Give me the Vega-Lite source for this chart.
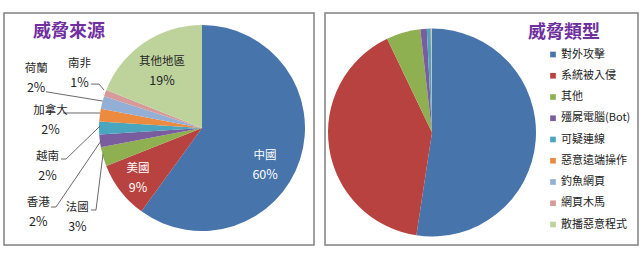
{
  "$schema": "https://vega.github.io/schema/vega-lite/v6.json",
  "padding": {"left": 3, "top": 12, "right": 0, "bottom": 0},
  "background": "white",
  "spacing": 9,
  "config": {
    "font": "Noto Sans CJK TC",
    "view": {"stroke": "#808080", "strokeWidth": 1.5}
  },
  "resolve": {"scale": {"color": "independent"}, "legend": {"color": "independent"}},
  "datasets": {
    "sources": [
      {"idx": 1, "region": "中國", "pct": 0.60},
      {"idx": 2, "region": "美國", "pct": 0.09},
      {"idx": 3, "region": "法國", "pct": 0.03},
      {"idx": 4, "region": "香港", "pct": 0.02},
      {"idx": 5, "region": "越南", "pct": 0.02},
      {"idx": 6, "region": "加拿大", "pct": 0.02},
      {"idx": 7, "region": "荷蘭", "pct": 0.02},
      {"idx": 8, "region": "南非", "pct": 0.01},
      {"idx": 9, "region": "其他地區", "pct": 0.19}
    ],
    "labels": [
      {"region": "中國", "pct": 0.60, "lx": 0.612, "ly": -0.364},
      {"region": "美國", "pct": 0.09, "lx": -0.621, "ly": -0.495},
      {"region": "其他地區", "pct": 0.19, "lx": -0.388, "ly": 0.553},
      {"region": "南非", "pct": 0.01, "lx": -1.19, "ly": 0.53},
      {"region": "荷蘭", "pct": 0.02, "lx": -1.61, "ly": 0.48},
      {"region": "加拿大", "pct": 0.02, "lx": -1.47, "ly": 0.07},
      {"region": "越南", "pct": 0.02, "lx": -1.5, "ly": -0.37},
      {"region": "香港", "pct": 0.02, "lx": -1.59, "ly": -0.82},
      {"region": "法國", "pct": 0.03, "lx": -1.21, "ly": -0.87}
    ],
    "leaders": [
      {"region": "南非", "k": 1, "lx": -1.078, "ly": 0.427},
      {"region": "南非", "k": 2, "lx": -1.0, "ly": 0.427},
      {"region": "南非", "k": 3, "lx": -0.951, "ly": 0.369},
      {"region": "荷蘭", "k": 1, "lx": -1.515, "ly": 0.352},
      {"region": "荷蘭", "k": 2, "lx": -0.964, "ly": 0.262},
      {"region": "加拿大", "k": 1, "lx": -1.35, "ly": 0.146},
      {"region": "加拿大", "k": 2, "lx": -0.99, "ly": 0.146},
      {"region": "越南", "k": 1, "lx": -1.369, "ly": -0.301},
      {"region": "越南", "k": 2, "lx": -1.32, "ly": -0.301},
      {"region": "越南", "k": 3, "lx": -0.99, "ly": 0.019},
      {"region": "香港", "k": 1, "lx": -1.466, "ly": -0.767},
      {"region": "香港", "k": 2, "lx": -1.417, "ly": -0.767},
      {"region": "香港", "k": 3, "lx": -0.981, "ly": -0.126},
      {"region": "法國", "k": 1, "lx": -1.078, "ly": -0.796},
      {"region": "法國", "k": 2, "lx": -1.029, "ly": -0.796},
      {"region": "法國", "k": 3, "lx": -0.961, "ly": -0.252}
    ],
    "types": [
      {"idx": 1, "type": "對外攻擊", "pct": 52.4},
      {"idx": 2, "type": "系統被入侵", "pct": 40.5},
      {"idx": 3, "type": "其他", "pct": 5.3},
      {"idx": 4, "type": "殭屍電腦(Bot)", "pct": 1.0},
      {"idx": 5, "type": "可疑連線", "pct": 0.6},
      {"idx": 6, "type": "惡意遠端操作", "pct": 0.08},
      {"idx": 7, "type": "釣魚網頁", "pct": 0.05},
      {"idx": 8, "type": "網頁木馬", "pct": 0.04},
      {"idx": 9, "type": "散播惡意程式", "pct": 0.03}
    ]
  },
  "hconcat": [
    {
      "width": 310,
      "height": 232,
      "title": {
        "text": "威脅來源",
        "anchor": "start",
        "offset": -28,
        "dx": 29,
        "fontSize": 18,
        "fontWeight": "bold",
        "color": "#7030A0",
        "font": "Noto Sans CJK TC"
      },
      "layer": [
        {
          "data": {"name": "sources"},
          "mark": {"type": "arc", "outerRadius": 103, "xOffset": 43, "yOffset": -1},
          "encoding": {
            "theta": {"field": "pct", "type": "quantitative", "stack": true},
            "order": {"field": "idx", "type": "quantitative"},
            "color": {
              "field": "region",
              "type": "nominal",
              "scale": {
                "domain": ["中國", "美國", "法國", "香港", "越南", "加拿大", "荷蘭", "南非", "其他地區"],
                "range": ["#4674AB", "#B8423F", "#8FB050", "#7A5D9E", "#4AA5BF", "#EC8A3F", "#94AFD6", "#D69A98", "#BED39C"]
              },
              "legend": null
            }
          }
        },
        {
          "data": {"name": "leaders"},
          "mark": {"type": "line", "color": "#595959", "strokeWidth": 0.9},
          "encoding": {
            "x": {"field": "lx", "type": "quantitative", "scale": {"domain": [-1.922, 1.087], "nice": false, "zero": false}, "axis": null},
            "y": {"field": "ly", "type": "quantitative", "scale": {"domain": [-1.136, 1.117], "nice": false, "zero": false}, "axis": null},
            "detail": {"field": "region", "type": "nominal"},
            "order": {"field": "k", "type": "quantitative"}
          }
        },
        {
          "data": {"name": "labels"},
          "mark": {"type": "text", "dy": -9.5, "fontSize": 11.5, "font": "Noto Sans CJK TC"},
          "encoding": {
            "x": {"field": "lx", "type": "quantitative", "scale": {"domain": [-1.922, 1.087], "nice": false, "zero": false}, "axis": null},
            "y": {"field": "ly", "type": "quantitative", "scale": {"domain": [-1.136, 1.117], "nice": false, "zero": false}, "axis": null},
            "text": {"field": "region"},
            "color": {"condition": {"test": "datum.region === '中國' || datum.region === '美國'", "value": "white"}, "value": "#262626"}
          }
        },
        {
          "data": {"name": "labels"},
          "mark": {"type": "text", "dy": 9.5, "fontSize": 12.5, "font": "Noto Sans CJK TC"},
          "encoding": {
            "x": {"field": "lx", "type": "quantitative", "scale": {"domain": [-1.922, 1.087], "nice": false, "zero": false}, "axis": null},
            "y": {"field": "ly", "type": "quantitative", "scale": {"domain": [-1.136, 1.117], "nice": false, "zero": false}, "axis": null},
            "text": {"field": "pct", "format": ".0%"},
            "color": {"condition": {"test": "datum.region === '中國' || datum.region === '美國'", "value": "white"}, "value": "#262626"}
          }
        }
      ]
    },
    {
      "width": 313,
      "height": 232,
      "view": {"stroke": "#808080", "strokeWidth": 1.5},
      "data": {"name": "types"},
      "mark": {"type": "arc", "outerRadius": 104, "xOffset": -49.5, "yOffset": 3.5},
      "encoding": {
        "theta": {"field": "pct", "type": "quantitative", "stack": true},
        "order": {"field": "idx", "type": "quantitative"},
        "color": {
          "field": "type",
          "type": "nominal",
          "scale": {
            "domain": ["對外攻擊", "系統被入侵", "其他", "殭屍電腦(Bot)", "可疑連線", "惡意遠端操作", "釣魚網頁", "網頁木馬", "散播惡意程式"],
            "range": ["#4674AB", "#B8423F", "#8FB050", "#7A5D9E", "#4AA5BF", "#EC8A3F", "#94AFD6", "#D69A98", "#BED39C"]
          },
          "legend": {
            "title": "威脅類型",
            "orient": "none",
            "legendX": 203,
            "legendY": 11,
            "titleFontSize": 18,
            "titleFontWeight": "bold",
            "titleColor": "#7030A0",
            "titleFont": "Noto Sans CJK TC",
            "titlePadding": 7,
            "symbolType": "square",
            "symbolSize": 32,
            "symbolStrokeWidth": 0,
            "symbolOpacity": 1,
            "symbolOffset": 19.5,
            "labelOffset": 2.5,
            "labelFont": "Noto Sans CJK TC",
            "labelFontSize": 11,
            "labelColor": "#222222",
            "rowPadding": 9.25,
            "labelLimit": 200
          }
        }
      }
    }
  ]
}
